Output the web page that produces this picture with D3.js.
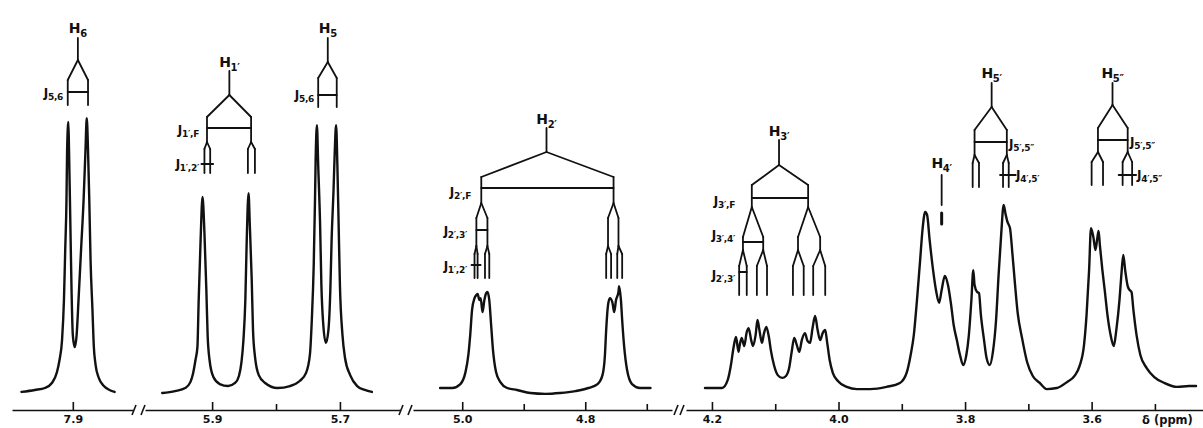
<!DOCTYPE html>
<html>
<head>
<meta charset="utf-8">
<script src="https://cdn.jsdelivr.net/npm/d3@7"></script>
<style>
  html, body { margin: 0; padding: 0; background: #fff; }
  svg { display: block; }
</style>
</head>
<body>
<svg id="chart" width="1203" height="428"></svg>
<script>
// ---------------------------------------------------------------------------
// 1H NMR spectrum of a 2'-fluoro nucleoside, shown as four axis windows.
// Every trace is a list of [chemical shift (ppm), relative intensity] points.
// ---------------------------------------------------------------------------

// Chemical-shift window covered by each axis piece (left → right, ppm)
const segmentDomains = [
  [7.996, 7.805],
  [6.005, 5.606],
  [5.080, 4.659],
  [4.241, 3.424]
];

// Tick positions of each window and their printed labels ("" = unlabelled tick)
const segmentTicks = [
  [7.9],
  [5.9, 5.8, 5.7],
  [5.0, 4.9, 4.8, 4.7],
  [4.2, 4.1, 4.0, 3.9, 3.8, 3.7, 3.6, 3.5]
];
const tickLabels = [
  ["7.9"],
  ["5.9", "", "5.7"],
  ["5.0", "", "4.8", ""],
  ["4.2", "", "4.0", "", "3.8", "", "3.6", ""]
];
const axisTitle = "δ (ppm)";

// H6 doublet
const traceH6 = [
  [7.981, 1.1], [7.960, 1.8], [7.944, 2.5], [7.933, 4.3], [7.925, 8.2], [7.921, 12.5],
  [7.917, 19.6], [7.914, 33.9], [7.912, 51.8], [7.910, 69.6], [7.909, 87.5], [7.907, 97.5],
  [7.906, 87.5], [7.904, 62.5], [7.902, 37.5], [7.900, 21.4], [7.897, 17.1], [7.894, 21.4],
  [7.891, 33.9], [7.887, 51.8], [7.883, 69.6], [7.880, 87.5], [7.878, 98.9], [7.876, 87.5],
  [7.874, 69.6], [7.872, 48.2], [7.869, 30.4], [7.867, 17.9], [7.864, 10.7], [7.859, 6.1],
  [7.851, 3.2], [7.842, 1.8], [7.834, 1.1]
];

// H1' doublet and H5 doublet
const traceH1H5 = [
  [5.978, 0.7], [5.958, 1.4], [5.942, 2.5], [5.934, 4.6], [5.930, 7.5], [5.926, 12.5],
  [5.923, 17.1], [5.921, 33.9], [5.918, 55.4], [5.915, 70.7], [5.912, 57.9], [5.909, 37.5],
  [5.907, 21.4], [5.904, 12.5], [5.898, 6.4], [5.888, 3.9], [5.875, 3.2], [5.864, 4.3],
  [5.858, 6.8], [5.854, 11.8], [5.851, 19.6], [5.848, 33.9], [5.846, 53.6], [5.843, 72.1],
  [5.841, 60.7], [5.838, 41.1], [5.836, 23.2], [5.833, 13.9], [5.827, 7.1], [5.817, 4.3],
  [5.798, 2.5], [5.778, 3.2], [5.763, 5.0], [5.753, 7.9], [5.747, 14.3], [5.744, 26.8],
  [5.741, 46.4], [5.739, 69.6], [5.738, 83.9], [5.736, 96.4], [5.734, 82.1], [5.731, 60.7],
  [5.729, 39.3], [5.726, 25.0], [5.722, 18.6], [5.718, 23.2], [5.715, 37.5], [5.713, 55.4],
  [5.710, 73.2], [5.708, 87.5], [5.706, 96.4], [5.704, 82.1], [5.702, 60.7], [5.700, 39.3],
  [5.696, 21.4], [5.692, 13.2], [5.684, 7.1], [5.673, 3.2], [5.661, 1.8], [5.650, 1.1]
];

// H2' (large H–F doublet of multiplets)
const traceH2 = [
  [5.036, 2.5], [5.016, 2.5], [5.003, 3.9], [4.995, 7.9], [4.990, 14.3], [4.987, 21.4],
  [4.984, 30.4], [4.980, 34.6], [4.977, 35.7], [4.975, 36.1], [4.972, 33.9], [4.970, 34.6],
  [4.967, 29.6], [4.964, 33.9], [4.961, 36.4], [4.959, 36.8], [4.956, 33.9], [4.953, 25.0],
  [4.950, 16.1], [4.945, 8.2], [4.938, 4.6], [4.927, 2.5], [4.911, 1.8], [4.889, 0.7],
  [4.865, 0.4], [4.841, 0.7], [4.816, 1.4], [4.795, 2.5], [4.780, 3.9], [4.772, 7.1],
  [4.768, 14.3], [4.766, 23.2], [4.763, 32.1], [4.760, 34.6], [4.756, 33.2], [4.753, 29.6],
  [4.750, 33.9], [4.746, 36.8], [4.745, 38.9], [4.742, 33.9], [4.740, 26.8], [4.737, 17.9],
  [4.732, 8.9], [4.724, 3.9], [4.711, 2.5], [4.694, 2.5]
];

// H3', H4', H5' and H5'' region
const traceH3toH5 = [
  [4.211, 2.5], [4.184, 2.5], [4.175, 5.4], [4.170, 10.7], [4.166, 16.8], [4.162, 20.7],
  [4.158, 15.4], [4.156, 17.9], [4.153, 20.4], [4.149, 17.5], [4.145, 22.5], [4.142, 23.9],
  [4.138, 19.6], [4.135, 17.5], [4.131, 21.4], [4.128, 26.8], [4.125, 23.2], [4.121, 18.6],
  [4.118, 21.8], [4.114, 24.3], [4.110, 20.7], [4.107, 16.1], [4.102, 10.7], [4.096, 7.1],
  [4.089, 6.1], [4.083, 6.8], [4.078, 9.6], [4.074, 15.4], [4.070, 20.4], [4.066, 17.9],
  [4.062, 15.4], [4.058, 19.6], [4.053, 22.1], [4.049, 19.3], [4.045, 18.6], [4.041, 23.9],
  [4.037, 28.2], [4.033, 23.2], [4.029, 19.6], [4.025, 22.1], [4.021, 23.2], [4.018, 18.9],
  [4.014, 12.5], [4.009, 7.9], [4.001, 5.0], [3.987, 2.9], [3.971, 2.1], [3.950, 2.1],
  [3.924, 2.9], [3.903, 4.3], [3.892, 8.2], [3.886, 14.3], [3.881, 21.4], [3.876, 33.9],
  [3.871, 48.2], [3.867, 59.6], [3.863, 65.4], [3.860, 64.3], [3.856, 55.4], [3.851, 45.4],
  [3.846, 37.5], [3.841, 32.9], [3.837, 37.5], [3.832, 42.5], [3.827, 39.3], [3.822, 32.1],
  [3.818, 25.0], [3.813, 19.6], [3.808, 14.3], [3.803, 10.7], [3.798, 14.3], [3.794, 21.4],
  [3.790, 33.9], [3.787, 44.6], [3.785, 39.3], [3.781, 36.8], [3.778, 36.4], [3.775, 28.6],
  [3.770, 19.6], [3.766, 13.2], [3.761, 10.7], [3.756, 15.4], [3.751, 26.8], [3.747, 42.9],
  [3.743, 57.1], [3.739, 67.9], [3.736, 64.6], [3.733, 61.8], [3.729, 59.6], [3.725, 50.0],
  [3.721, 39.3], [3.717, 29.6], [3.710, 20.4], [3.702, 11.8], [3.693, 6.8], [3.682, 4.3],
  [3.671, 2.1], [3.655, 2.5], [3.639, 4.6], [3.627, 6.8], [3.619, 10.4], [3.612, 17.9],
  [3.608, 28.6], [3.604, 44.6], [3.601, 59.6], [3.597, 56.1], [3.594, 51.8], [3.591, 56.1],
  [3.589, 58.6], [3.587, 53.6], [3.583, 44.6], [3.579, 36.8], [3.575, 28.6], [3.570, 21.4],
  [3.565, 17.5], [3.561, 23.2], [3.556, 33.9], [3.553, 42.9], [3.550, 50.0], [3.547, 44.6],
  [3.543, 38.9], [3.540, 37.5], [3.537, 36.8], [3.534, 30.4], [3.529, 21.4], [3.523, 14.3],
  [3.513, 9.6], [3.501, 6.4], [3.485, 4.3], [3.465, 2.9], [3.446, 3.2], [3.435, 3.2]
];

// Splitting trees: proton, window index, multiplet centre and line positions (ppm)
const protonNames = ["6", "5", "1′", "2′", "3′", "4′", "5′", "5″"];
const treeWindows = [0, 1, 1, 2, 3, 3, 3, 3];
const treeCentres = [7.892, 5.719, 5.873, 4.863, 4.094, 3.837, 3.758, 3.567];
const treeLevels = [
  [[7.908, 7.876]],
  [[5.734, 5.705]],
  [[5.908, 5.839], [5.912, 5.903, 5.844, 5.833]],
  [[4.969, 4.754], [4.977, 4.959, 4.763, 4.746],
   [4.980, 4.975, 4.963, 4.956, 4.766, 4.758, 4.748, 4.740]],
  [[4.137, 4.048], [4.151, 4.119, 4.064, 4.029],
   [4.157, 4.145, 4.129, 4.113, 4.072, 4.055, 4.040, 4.021]],
  [],
  [[3.785, 3.734], [3.788, 3.778, 3.740, 3.731]],
  [[3.590, 3.543], [3.600, 3.582, 3.551, 3.536]]
];
const treeCouplings = [
  ["5,6"],
  ["5,6"],
  ["1′,F", "1′,2′"],
  ["2′,F", "2′,3′", "1′,2′"],
  ["3′,F", "3′,4′", "2′,3′"],
  [],
  ["5′,5″", "4′,5′"],
  ["5′,5″", "4′,5″"]
];

// ---------------------------------------------------------------------------
// Layout (pixels)
// ---------------------------------------------------------------------------
const layout = {
  axisY: 410,
  windowPx: [[12, 133], [145, 400], [413, 672], [686, 1203]],
  breaks: [[134, 143], [401, 410], [676, 682]],
  intensityPx: [395, 115],
  ink: "#111",
  font: "'DejaVu Sans', 'Liberation Sans', sans-serif"
};

// Vertical geometry of each splitting tree (same order as the tree arrays)
const treeGeometry = [
  { label: 33, stem: [38, 60], levels: [{ y0: 60, y1: 80, bar: { y: 92 } }], bottom: 105,
    jText: [{ x: 63, y: 97, anchor: "end" }] },
  { label: 33, stem: [38, 62], levels: [{ y0: 62, y1: 78, bar: { y: 95 } }], bottom: 107,
    jText: [{ x: 314, y: 99, anchor: "end" }] },
  { label: 67, stem: [71, 95],
    levels: [{ y0: 95, y1: 117, bar: { y: 128 } },
             { y0: 142, y1: 149, bar: { y: 164, group: 0, ext: 3 } }],
    bottom: 173,
    jText: [{ x: 199, y: 134, anchor: "end" }, { x: 199, y: 168, anchor: "end" }] },
  { label: 124, stem: [128, 152],
    levels: [{ y0: 152, y1: 177, bar: { y: 188 } },
             { y0: 203, y1: 218, bar: { y: 230, group: 0, ext: 0 } },
             { y0: 246, y1: 254, bar: { y: 265, group: 0, ext: 3 } }],
    bottom: 278,
    jText: [{ x: 471, y: 196, anchor: "end" }, { x: 467, y: 235, anchor: "end" },
            { x: 467, y: 270, anchor: "end" }] },
  { label: 136, stem: [140, 165],
    levels: [{ y0: 165, y1: 185, bar: { y: 198 } },
             { y0: 207, y1: 237, bar: { y: 242, group: 0, ext: 0 } },
             { y0: 250, y1: 266, bar: { y: 272, group: 0, ext: 0 } }],
    bottom: 295,
    jText: [{ x: 735, y: 205, anchor: "end" }, { x: 735, y: 239, anchor: "end" },
            { x: 735, y: 279, anchor: "end" }] },
  { label: 168, stem: [175, 205], levels: [], bottom: 205, mark: [213, 224], jText: [] },
  { label: 78, stem: [83, 107],
    levels: [{ y0: 107, y1: 130, bar: { y: 142 } },
             { y0: 155, y1: 163, bar: { y: 175, group: 1, ext: 3, extR: 7 } }],
    bottom: 187,
    jText: [{ x: 1009, y: 148, anchor: "start" }, { x: 1016, y: 179, anchor: "start" }] },
  { label: 78, stem: [83, 105],
    levels: [{ y0: 105, y1: 128, bar: { y: 140 } },
             { y0: 152, y1: 162, bar: { y: 175, group: 1, ext: 4, extR: 4 } }],
    bottom: 185,
    jText: [{ x: 1130, y: 146, anchor: "start" }, { x: 1137, y: 179, anchor: "start" }] }
];

// ---------------------------------------------------------------------------
// Scales
// ---------------------------------------------------------------------------
const svg = d3.select("#chart");
const y = d3.scaleLinear().domain([0, 100]).range(layout.intensityPx);
const xs = segmentDomains.map((d, i) => d3.scaleLinear().domain(d).range(layout.windowPx[i]));

// ---------------------------------------------------------------------------
// Spectrum traces
// ---------------------------------------------------------------------------
const traces = [traceH6, traceH1H5, traceH2, traceH3toH5];
traces.forEach((tr, i) => {
  const line = d3.line()
    .x(d => xs[i](d[0]))
    .y(d => y(d[1]))
    .curve(d3.curveMonotoneX);
  svg.append("path")
    .datum(tr)
    .attr("d", line)
    .attr("fill", "none")
    .attr("stroke", layout.ink)
    .attr("stroke-width", 2.4)
    .attr("stroke-linejoin", "round")
    .attr("stroke-linecap", "round");
});

// ---------------------------------------------------------------------------
// Broken chemical-shift axis
// ---------------------------------------------------------------------------
xs.forEach((x, i) => {
  const axis = d3.axisBottom(x)
    .tickValues(segmentTicks[i])
    .tickFormat((d, j) => tickLabels[i][j])
    .tickSizeInner(-8)
    .tickSizeOuter(0)
    .tickPadding(5);
  const g = svg.append("g")
    .attr("transform", `translate(0,${layout.axisY})`)
    .call(axis);
  g.select(".domain").attr("stroke", layout.ink).attr("stroke-width", 1.6);
  g.selectAll(".tick line")
    .attr("stroke", layout.ink)
    .attr("stroke-width", 1.6)
    .attr("y2", (d, j) => (tickLabels[i][j] ? -8 : -6));
  g.selectAll(".tick text")
    .attr("fill", layout.ink)
    .attr("font-family", layout.font)
    .attr("font-weight", "bold")
    .attr("font-size", 11);
});

// break marks between windows
layout.breaks.forEach(b => {
  b.forEach(bx => {
    svg.append("line")
      .attr("x1", bx - 2).attr("y1", layout.axisY + 5)
      .attr("x2", bx + 2).attr("y2", layout.axisY - 5)
      .attr("stroke", layout.ink).attr("stroke-width", 1.6);
  });
});

svg.append("text")
  .attr("x", 1142).attr("y", 424)
  .attr("font-family", layout.font)
  .attr("font-weight", "bold")
  .attr("font-size", 11.5)
  .attr("fill", layout.ink)
  .text(axisTitle);

// ---------------------------------------------------------------------------
// Splitting trees
// ---------------------------------------------------------------------------
function seg(g, x1, y1, x2, y2, w) {
  g.append("line")
    .attr("x1", x1).attr("y1", y1).attr("x2", x2).attr("y2", y2)
    .attr("stroke", layout.ink).attr("stroke-width", w || 1.8)
    .attr("stroke-linecap", "round");
}

function subText(g, x, yb, main, sub, anchor, size, subSize) {
  const t = g.append("text")
    .attr("x", x).attr("y", yb)
    .attr("text-anchor", anchor)
    .attr("font-family", layout.font)
    .attr("font-weight", "bold")
    .attr("font-size", size)
    .attr("letter-spacing", -0.3)
    .attr("fill", layout.ink);
  t.append("tspan").text(main);
  t.append("tspan").attr("dy", size * 0.28).attr("font-size", subSize).text(sub);
}

protonNames.forEach((name, k) => {
  const x = xs[treeWindows[k]];
  const geo = treeGeometry[k];
  const g = svg.append("g");
  const cx = x(treeCentres[k]);

  subText(g, cx, geo.label, "H", name, "middle", 14, 10);
  seg(g, cx, geo.stem[0], cx, geo.stem[1]);

  let parents = [treeCentres[k]];
  let yPrev = geo.stem[1];
  treeLevels[k].forEach((children, i) => {
    const lv = geo.levels[i];
    if (lv.y0 > yPrev) parents.forEach(p => seg(g, x(p), yPrev, x(p), lv.y0));
    const per = children.length / parents.length;
    children.forEach((c, j) => {
      const p = parents[Math.floor(j / per)];
      seg(g, x(p), lv.y0, x(c), lv.y1);
    });
    if (lv.bar) {
      const grp = lv.bar.group == null
        ? children
        : children.slice(lv.bar.group * per, (lv.bar.group + 1) * per);
      const px = grp.map(x);
      const ext = lv.bar.ext || 0;
      const extR = lv.bar.extR != null ? lv.bar.extR : ext;
      seg(g, d3.min(px) - ext, lv.bar.y, d3.max(px) + extR, lv.bar.y);
    }
    parents = children;
    yPrev = lv.y1;
  });
  if (geo.bottom > yPrev) parents.forEach(p => seg(g, x(p), yPrev, x(p), geo.bottom));
  if (geo.mark) seg(g, cx, geo.mark[0], cx, geo.mark[1], 3);

  treeCouplings[k].forEach((jt, i) => {
    const pos = geo.jText[i];
    subText(g, pos.x, pos.y, "J", jt, pos.anchor, 12, 9);
  });
});
</script>
</body>
</html>
